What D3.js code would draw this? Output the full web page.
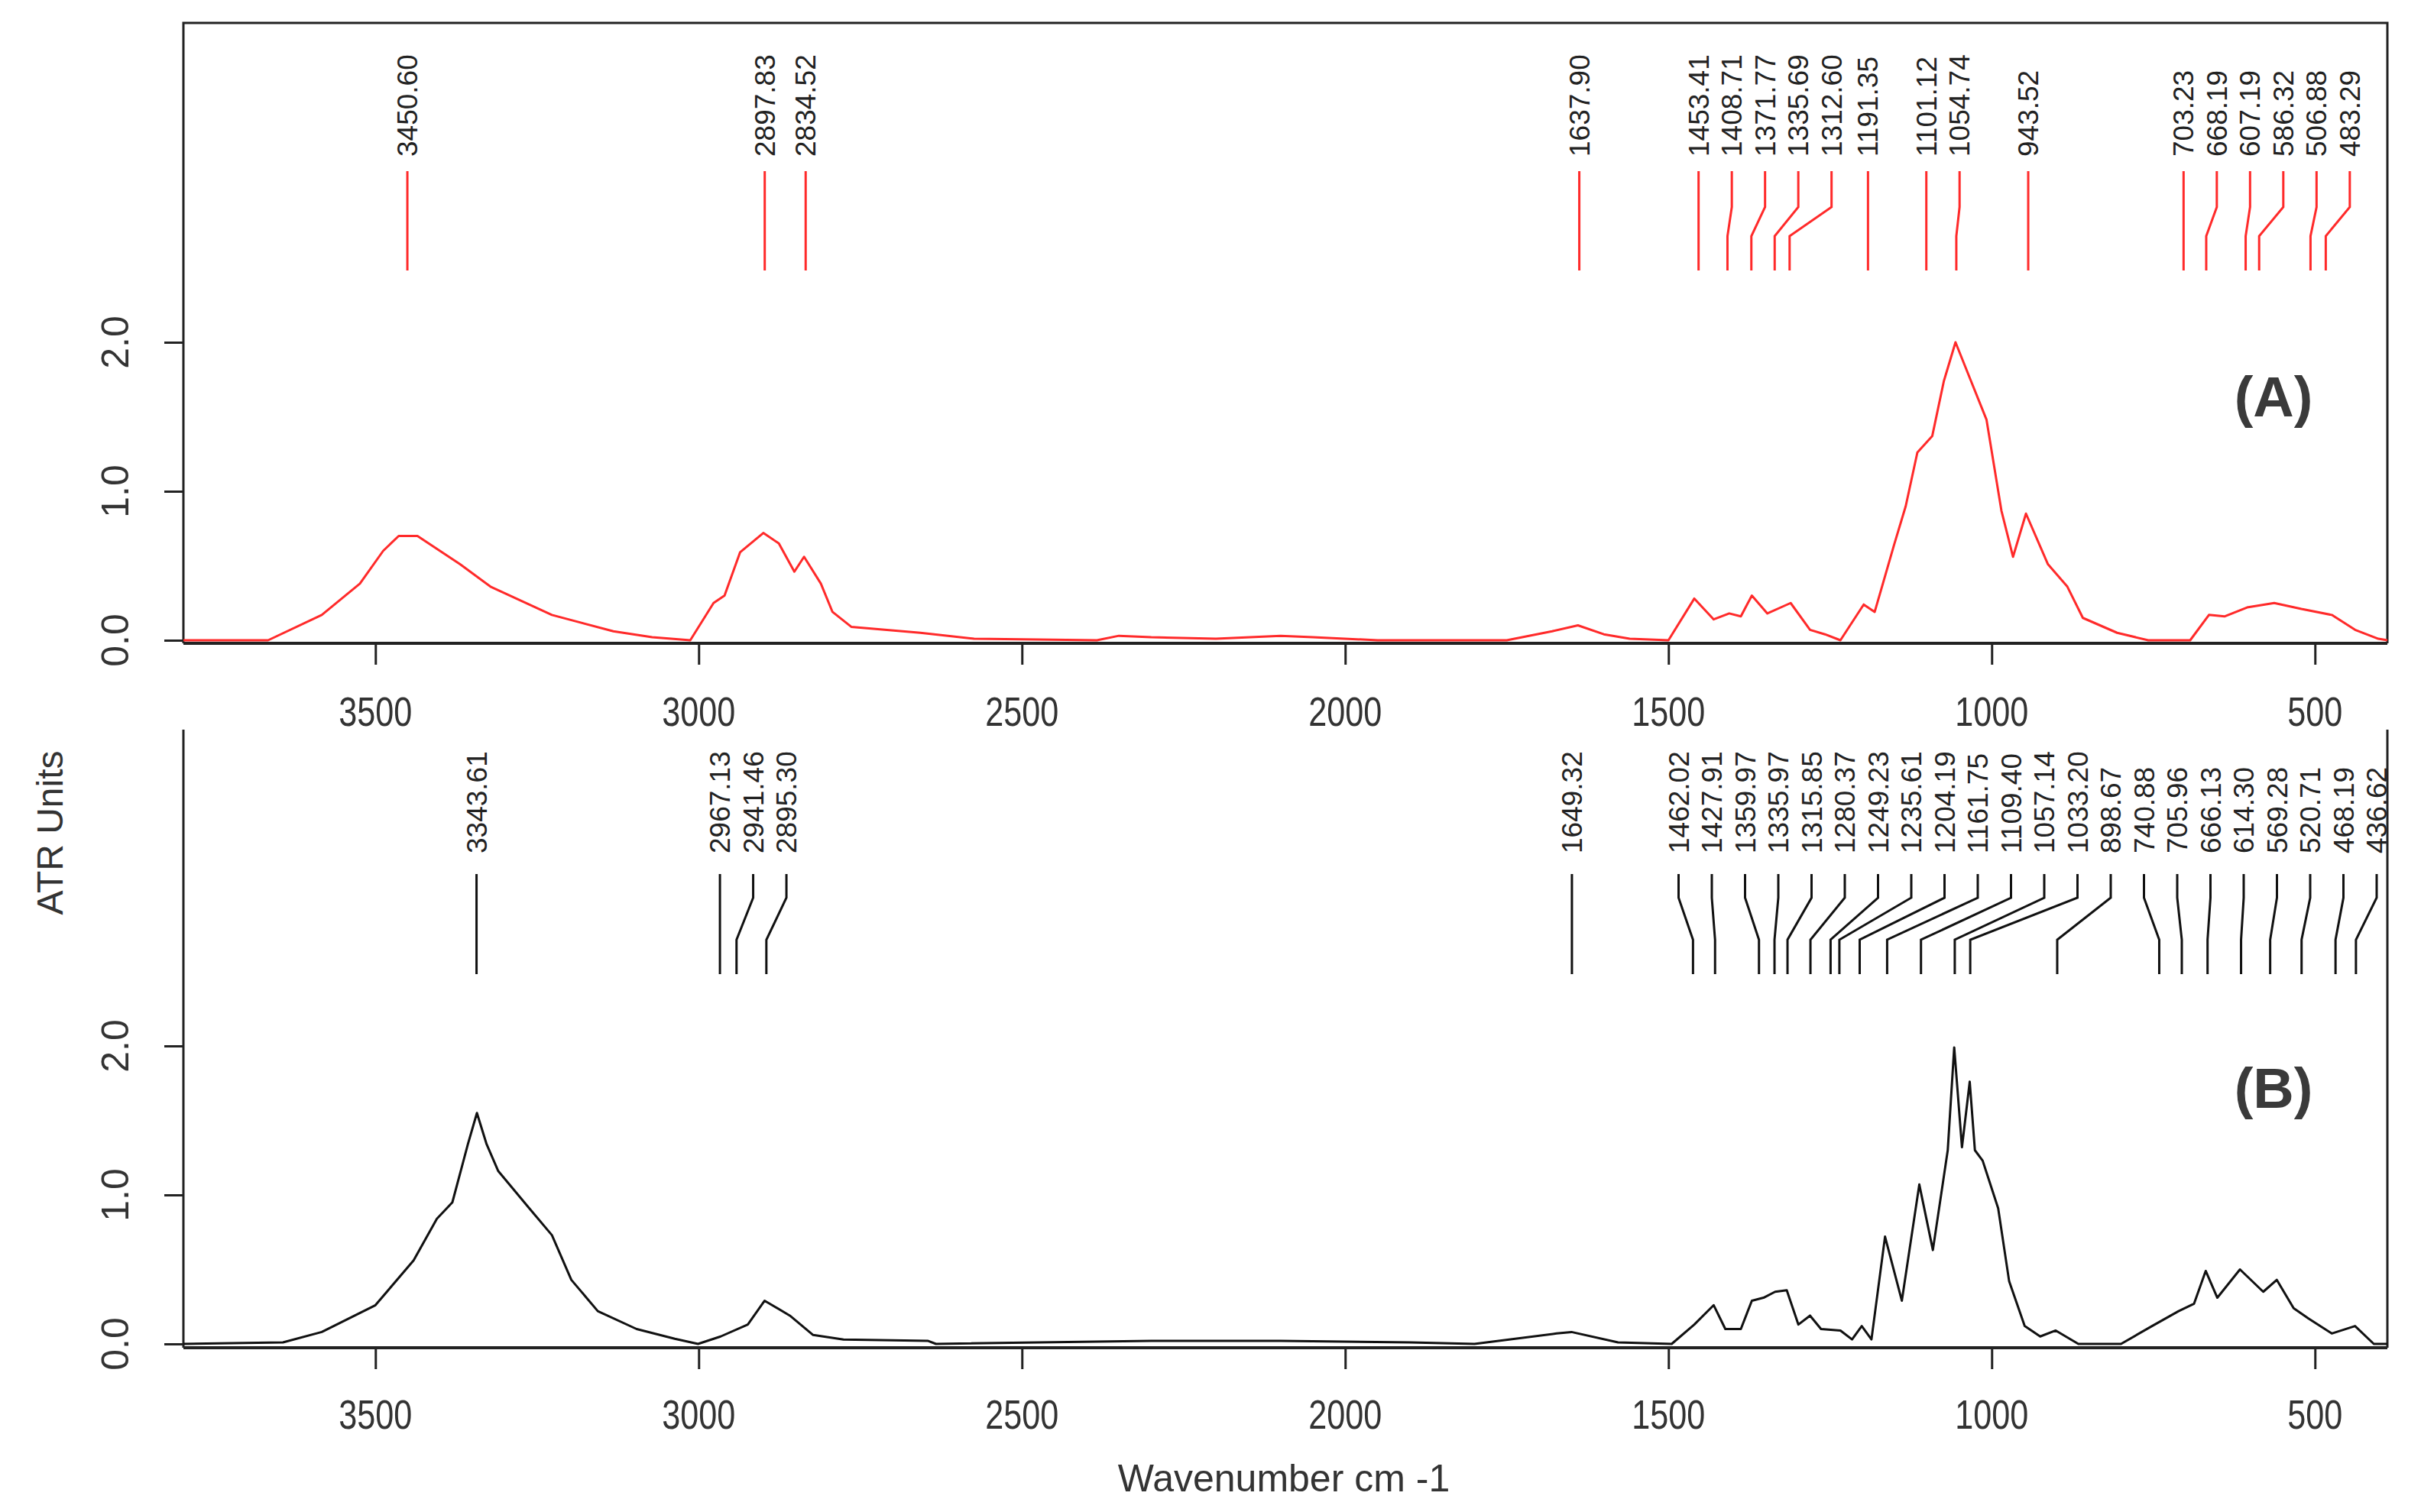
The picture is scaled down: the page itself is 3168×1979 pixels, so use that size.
<!DOCTYPE html>
<html>
<head>
<meta charset="utf-8">
<script src="https://cdn.jsdelivr.net/npm/d3@7"></script>
<style>
  body { margin: 0; background: #fff; }
  text { font-family: "Liberation Sans", Arial, sans-serif; }
</style>
</head>
<body>
<div id="chart"></div>
<script>
// Spectrum A (red), [wavenumber, ATR units]
var specA = [[3797,0],[3666,0],[3583,0.17],[3524,0.38],[3488,0.6],[3464,0.7],[3435,0.7],[3369,0.51],[3322,0.36],
  [3227,0.17],[3132,0.06],[3072,0.02],[3013,0],[2977,0.25],[2960,0.3],[2936,0.59],[2900,0.72],[2876,0.65],
  [2852,0.46],[2837,0.56],[2811,0.38],[2793,0.19],[2764,0.09],[2657,0.05],[2574,0.01],[2384,0],[2350,0.03],
  [2300,0.02],[2200,0.01],[2100,0.03],[2050,0.02],[1950,0],[1750,0],[1680,0.06],[1640,0.1],[1600,0.04],[1560,0.01],
  [1500,0],[1460,0.28],[1430,0.14],[1406,0.18],[1388,0.16],[1371,0.3],[1347,0.18],[1311,0.25],[1281,0.07],
  [1258,0.04],[1234,0],[1198,0.24],[1181,0.19],[1151,0.64],[1133,0.9],[1115,1.26],[1092,1.37],[1074,1.74],
  [1056,2.0],[1032,1.74],[1008,1.48],[985,0.87],[967,0.56],[947,0.85],[913,0.51],[883,0.36],[859,0.15],
  [806,0.05],[758,0],[693,0],[664,0.17],[640,0.16],[605,0.22],[563,0.25],[521,0.21],[474,0.17],[438,0.07],[402,0.01],[388,0]];

// Spectrum B (black)
var specB = [[3797,0],[3643,0.01],[3583,0.08],[3500,0.26],[3441,0.56],[3405,0.84],[3381,0.95],[3357,1.34],
  [3343,1.55],[3328,1.34],[3310,1.16],[3262,0.91],[3227,0.73],[3197,0.43],[3156,0.22],[3096,0.1],[3037,0.035],
  [3001,0],[2966,0.05],[2924,0.13],[2898,0.29],[2859,0.19],[2823,0.06],[2776,0.03],[2645,0.02],[2633,0],
  [2300,0.02],[2100,0.02],[1900,0.01],[1800,0],[1673,0.07],[1650,0.08],[1578,0.01],[1495,0],[1460,0.13],
  [1430,0.26],[1412,0.1],[1388,0.1],[1371,0.29],[1353,0.31],[1335,0.35],[1317,0.36],[1299,0.13],[1281,0.19],
  [1264,0.1],[1234,0.09],[1216,0.03],[1201,0.12],[1186,0.03],[1165,0.72],[1139,0.29],[1112,1.07],[1091,0.63],
  [1068,1.3],[1058,1.99],[1046,1.32],[1034,1.76],[1026,1.3],[1014,1.23],[990,0.91],[973,0.42],[949,0.12],
  [925,0.05],[901,0.09],[866,0],[800,0],[752,0.12],[711,0.22],[687,0.27],[669,0.49],[651,0.31],[616,0.5],
  [580,0.35],[559,0.43],[533,0.24],[510,0.17],[474,0.07],[438,0.12],[409,0],[388,0]];

var peaksA = ["3450.60","2897.83","2834.52","1637.90","1453.41","1408.71","1371.77","1335.69","1312.60",
  "1191.35","1101.12","1054.74","943.52","703.23","668.19","607.19","586.32","506.88","483.29"];
var peaksB = ["3343.61","2967.13","2941.46","2895.30","1649.32","1462.02","1427.91","1359.97","1335.97",
  "1315.85","1280.37","1249.23","1235.61","1204.19","1161.75","1109.40","1057.14","1033.20","898.67",
  "740.88","705.96","666.13","614.30","569.28","520.71","468.19","436.62"];

var xTicks = [3500, 3000, 2500, 2000, 1500, 1000, 500];
var yTicks = [0, 1, 2];
var yTickLabels = ["0.0", "1.0", "2.0"];

var W = 3168, H = 1979, L = 240, R = 3124;
var svg = d3.select("#chart").append("svg").attr("width", W).attr("height", H);
var x = d3.scaleLinear().domain([3797, 388]).range([L, R]);

var panels = [
  {data: specA, peaks: peaksA, color: "#ff2a2a", top: 30, y0: 838, axisY: 842, frameTop: true,
   labelY: 205, l1: 224, l2: 271, l3: 309, l4: 354, tag: "(A)", tagY: 545, tickLabY: 950},
  {data: specB, peaks: peaksB, color: "#111", top: 955, y0: 1759, axisY: 1764, frameTop: false,
   labelY: 1117, l1: 1144, l2: 1175, l3: 1230, l4: 1275, tag: "(B)", tagY: 1450, tickLabY: 1870}
];

panels.forEach(function(p) {
  var y = d3.scaleLinear().domain([0, 2]).range([p.y0, p.y0 - 390]);
  var g = svg.append("g");

  // frame
  var frame = p.frameTop
    ? [[L, p.axisY], [L, p.top], [R, p.top], [R, p.axisY]]
    : [[L, p.top], [L, p.axisY]];
  g.append("path").attr("d", d3.line()(frame)).attr("fill", "none").attr("stroke", "#222").attr("stroke-width", 3);
  if (!p.frameTop) g.append("line").attr("x1", R).attr("x2", R).attr("y1", p.top).attr("y2", p.axisY)
    .attr("stroke", "#222").attr("stroke-width", 3);

  // x axis
  var xa = g.append("g").attr("transform", "translate(0," + p.axisY + ")")
    .call(d3.axisBottom(x).tickValues(xTicks).tickSize(28).tickSizeOuter(0).tickFormat(""));
  xa.select(".domain").attr("stroke", "#222").attr("stroke-width", 4).attr("d", "M" + L + ",0H" + R);
  xa.selectAll(".tick line").attr("stroke", "#222").attr("stroke-width", 3);
  g.selectAll(".xl").data(xTicks).enter().append("text")
    .attr("transform", function(d) { return "translate(" + x(d) + "," + p.tickLabY + ") scale(0.8,1)"; })
    .attr("text-anchor", "middle").attr("font-size", 54).attr("fill", "#333")
    .text(function(d) { return d; });

  // y axis ticks
  var ya = g.append("g").attr("transform", "translate(" + L + ",0)")
    .call(d3.axisLeft(y).tickValues(yTicks).tickSize(25).tickFormat(""));
  ya.select(".domain").remove();
  ya.selectAll(".tick line").attr("stroke", "#222").attr("stroke-width", 3);
  g.selectAll(".yl").data(yTicks).enter().append("text")
    .attr("transform", function(d) { return "translate(168," + y(d) + ") rotate(-90)"; })
    .attr("text-anchor", "middle").attr("font-size", 50).attr("fill", "#333")
    .text(function(d, i) { return yTickLabels[i]; });

  // spectrum
  g.append("path").datum(p.data)
    .attr("d", d3.line().x(function(d) { return x(d[0]); }).y(function(d) { return y(d[1]); }))
    .attr("fill", "none").attr("stroke", p.color).attr("stroke-width", 3).attr("stroke-linejoin", "round");

  // peak labels, pushed apart left to right then back from the right edge
  var gap = 43.5, maxX = 3110;
  var pk = p.peaks.map(function(s) { return {s: s, tx: x(+s)}; });
  pk.forEach(function(d, i) { d.lx = i ? Math.max(d.tx, pk[i - 1].lx + gap) : d.tx; });
  for (var i = pk.length - 1; i >= 0; i--) {
    var lim = i === pk.length - 1 ? maxX : pk[i + 1].lx - gap;
    pk[i].lx = Math.min(pk[i].lx, lim);
  }
  g.selectAll(".pl").data(pk).enter().append("path")
    .attr("d", function(d) { return d3.line()([[d.lx, p.l1], [d.lx, p.l2], [d.tx, p.l3], [d.tx, p.l4]]); })
    .attr("fill", "none").attr("stroke", p.color).attr("stroke-width", 3);
  g.selectAll(".pt").data(pk).enter().append("text")
    .attr("transform", function(d) { return "translate(" + (d.lx + 13) + "," + p.labelY + ") rotate(-90)"; })
    .attr("font-size", 37).attr("fill", "#222").text(function(d) { return d.s; });

  g.append("text").attr("x", 2975).attr("y", p.tagY).attr("text-anchor", "middle")
    .attr("font-family", "'Open Sans', sans-serif").attr("font-weight", "bold").attr("font-size", 74)
    .attr("fill", "#3a3a3a").text(p.tag);
});

svg.append("text").attr("transform", "translate(82,1090) rotate(-90)").attr("text-anchor", "middle")
  .attr("font-size", 48).attr("fill", "#333").text("ATR Units");
svg.append("text").attr("x", 1680).attr("y", 1952).attr("text-anchor", "middle")
  .attr("font-size", 50).attr("fill", "#333").text("Wavenumber cm -1");
</script>
</body>
</html>
